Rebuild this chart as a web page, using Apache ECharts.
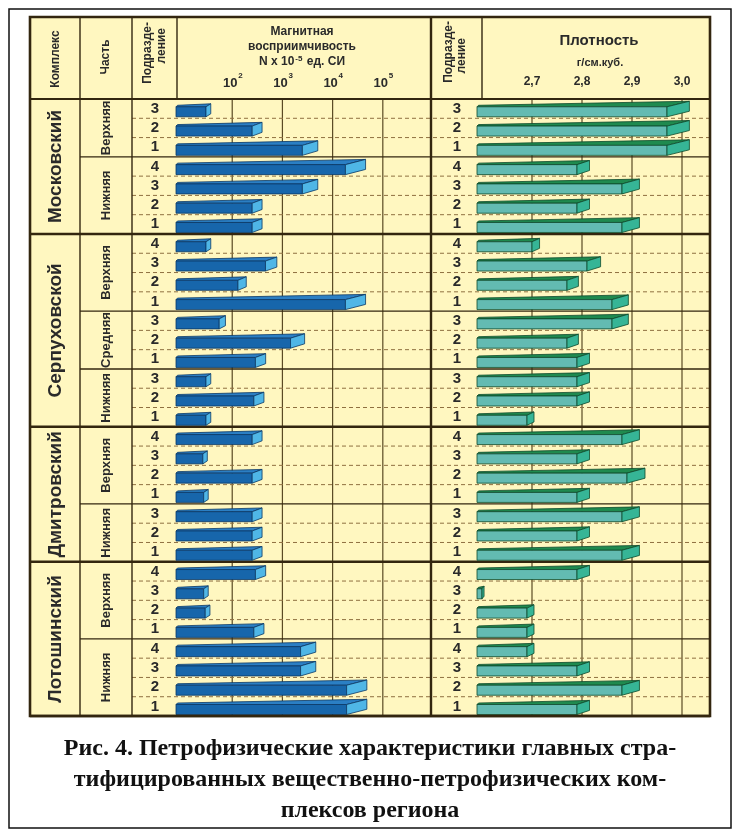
<!DOCTYPE html>
<html>
<head>
<meta charset="utf-8">
<script src="https://cdn.jsdelivr.net/npm/echarts@6/dist/echarts.min.js"></script>
<style>html,body{margin:0;padding:0;background:#fff}#main{width:740px;height:834px}</style>
</head>
<body>
<div id="main"></div>
<script>
// комплексы и части (сверху вниз)
var complexes = ['Московский', 'Серпуховской', 'Дмитровский', 'Лотошинский'];
var complexRows = [7, 10, 7, 8];
var parts = ['Верхняя', 'Нижняя', 'Верхняя', 'Средняя', 'Нижняя', 'Верхняя', 'Нижняя', 'Верхняя', 'Нижняя'];
var partRows = [3, 4, 4, 3, 3, 4, 3, 4, 4];
var subdivisions = ['3','2','1','4','3','2','1',
                    '4','3','2','1','3','2','1','3','2','1',
                    '4','3','2','1','3','2','1',
                    '4','3','2','1','4','3','2','1'];
// магнитная восприимчивость, N x 10^-5 ед. СИ
var magnetic = [30, 250, 2500, 18000, 2500, 250, 250,
                30, 460, 130, 18000, 55, 1450, 290, 30, 270, 30,
                250, 26, 250, 27, 250, 250, 250,
                290, 27, 29, 270, 2300, 2300, 19000, 19000];
// плотность, г/см.куб.
var density = [2.97, 2.97, 2.97, 2.79, 2.88, 2.79, 2.88,
               2.70, 2.81, 2.77, 2.86, 2.86, 2.77, 2.79, 2.79, 2.79, 2.69,
               2.88, 2.79, 2.89, 2.79, 2.88, 2.79, 2.88,
               2.79, 2.60, 2.69, 2.69, 2.69, 2.79, 2.88, 2.79];
var magTicks = [100, 1000, 10000, 100000];
var densityTicks = [2.7, 2.8, 2.9, 3.0];

// разметка, px
var P = {frameX: 9, frameY: 9, frameR: 731, frameB: 828,
         x: 30, y: 17, r: 710, b: 716, head: 99,
         partX: 80, subX: 132, magX: 176, sepX: 431, sub2X: 482, densX: 477};
var magMin = Math.pow(10, 0.88), magMax = Math.pow(10, 5.96);
var densMin = 2.59, densMax = 3.056;

var YELLOW = '#fff7c0', DARK = '#33260f', TXT = '#2a2a2a';
var FONT = '"Liberation Sans", Arial, sans-serif';
var SERIF = '"Liberation Serif", "Times New Roman", serif';
var blue = {front: '#1766ab', top: '#2b7fc4', side: '#4fb6e6', edge: '#0b3866'};
var green = {front: '#63bbb2', top: '#1f8a4f', side: '#36b596', edge: '#0e4a2c'};

var rowIds = subdivisions.map(function (s, i) { return 'r' + i; });

// тип нижней границы строки: 0 пунктир, 1 граница части, 2 граница комплекса
var rowKind = subdivisions.map(function () { return 0; });
var acc = 0;
partRows.forEach(function (n) { acc += n; rowKind[acc - 1] = 1; });
acc = 0;
complexRows.forEach(function (n) { acc += n; rowKind[acc - 1] = 2; });

var groups = [];
acc = 0;
complexRows.forEach(function (n, i) { groups.push([acc, n, 0, i]); acc += n; });
acc = 0;
partRows.forEach(function (n, i) { groups.push([acc, n, 1, i]); acc += n; });

function band(api) {
    return api.coord([densMin, 1])[1] - api.coord([densMin, 0])[1];
}

function bar3d(api, base, c) {
    var idx = api.value(0), val = api.value(1);
    var a = api.coord([base, idx]);
    var b = api.coord([val, idx]);
    var bh = api.coord([base, idx + 1])[1] - a[1];
    var yB = a[1] + bh / 2 - 1.5, yT = yB - 10;
    var x0 = a[0], x1 = b[0], len = x1 - x0;
    var dx = 1.5 + 0.11 * len, dy = 2.5 + 0.016 * len;
    var st = function (f) { return {fill: f, stroke: c.edge, lineWidth: 0.8}; };
    return {type: 'group', children: [
        {type: 'polygon', shape: {points: [[x0, yT], [x1, yT], [x1 + dx, yT - dy], [x0 + 1.5, yT - 1.5]]}, style: st(c.top)},
        {type: 'rect', shape: {x: x0, y: yT, width: len, height: yB - yT}, style: st(c.front)},
        {type: 'polygon', shape: {points: [[x1, yT], [x1 + dx, yT - dy], [x1 + dx, yB - dy], [x1, yB]]}, style: st(c.side)}
    ]};
}

function tickLines(api, params, label) {
    var cs = params.coordSys;
    var x = api.coord([api.value(0), 0])[0];
    return {type: 'group', children: [
        {type: 'line', shape: {x1: x, y1: cs.y, x2: x, y2: cs.y + cs.height}, style: {stroke: '#5a4a24', lineWidth: 1.2}}
    ].concat(label(x, api.value(0)))};
}

function line(x1, y1, x2, y2, w) {
    return {type: 'line', z: 20, shape: {x1: x1, y1: y1, x2: x2, y2: y2}, style: {stroke: DARK, lineWidth: w}};
}
function text(x, y, s, font, rot, align) {
    return {type: 'text', z: 20, x: x, y: y, rotation: rot || 0,
            style: {text: s, fill: TXT, font: font, align: align || 'center', verticalAlign: 'middle'}};
}

var myChart = echarts.init(document.getElementById('main'));

var R = Math.PI / 2;
var option = {
    animation: false,
    grid: [
        {left: P.magX, right: 740 - P.sepX, top: P.head, bottom: 834 - P.b},
        {left: P.densX, right: 740 - P.r, top: P.head, bottom: 834 - P.b}
    ],
    xAxis: [
        {gridIndex: 0, type: 'log', min: magMin, max: magMax, show: false},
        {gridIndex: 1, type: 'value', min: densMin, max: densMax, show: false}
    ],
    yAxis: [
        {gridIndex: 0, type: 'category', data: rowIds, inverse: true, z: 10,
         axisLine: {show: false}, axisTick: {show: false}, splitLine: {show: false},
         axisLabel: {margin: 21, align: 'center', padding: [6, 0, 0, 0], interval: 0,
                     color: TXT, fontFamily: FONT, fontWeight: 'bold', fontSize: 15,
                     formatter: function (v, i) { return subdivisions[i]; }}},
        {gridIndex: 1, type: 'category', data: rowIds, inverse: true, z: 10,
         axisLine: {show: false}, axisTick: {show: false}, splitLine: {show: false},
         axisLabel: {margin: 20, align: 'center', padding: [6, 0, 0, 0], interval: 0,
                     color: TXT, fontFamily: FONT, fontWeight: 'bold', fontSize: 15,
                     formatter: function (v, i) { return subdivisions[i]; }}}
    ],
    graphic: [
        {type: 'rect', z: 0, shape: {x: P.frameX, y: P.frameY, width: P.frameR - P.frameX, height: P.frameB - P.frameY},
         style: {fill: '#fff', stroke: '#111', lineWidth: 1.5}},
        {type: 'rect', z: 1, shape: {x: P.x, y: P.y, width: P.r - P.x, height: P.b - P.y},
         style: {fill: YELLOW, stroke: null}},
        line(P.x, P.head, P.r, P.head, 2.2),
        line(P.partX, P.y, P.partX, P.b, 1.4),
        line(P.subX, P.y, P.subX, P.b, 1.4),
        line(P.magX + 1, P.y, P.magX + 1, P.head, 1.4),
        line(P.sepX, P.y, P.sepX, P.b, 2.4),
        line(P.sub2X, P.y, P.sub2X, P.head, 1.4),
        {type: 'rect', z: 21, shape: {x: P.x, y: P.y, width: P.r - P.x, height: P.b - P.y},
         style: {fill: null, stroke: DARK, lineWidth: 2.6}},
        text(56, 59, 'Комплекс', 'bold 12px ' + FONT, R),
        text(106, 57, 'Часть', 'bold 12px ' + FONT, R),
        text(148, 22, 'Подразде-', 'bold 12px ' + FONT, R, 'right'),
        text(162, 28, 'ление', 'bold 12px ' + FONT, R, 'right'),
        text(449, 21, 'Подразде-', 'bold 12px ' + FONT, R, 'right'),
        text(462, 38, 'ление', 'bold 12px ' + FONT, R, 'right'),
        text(302, 32, 'Магнитная', 'bold 12px ' + FONT),
        text(302, 47, 'восприимчивость', 'bold 12px ' + FONT),
        {type: 'text', z: 20, x: 302, y: 62,
         style: {text: '{a|N x 10}{s|-5}{a| ед. СИ}', align: 'center', verticalAlign: 'middle',
                 rich: {a: {fill: TXT, font: 'bold 12px ' + FONT},
                        s: {fill: TXT, font: 'bold 8px ' + FONT, verticalAlign: 'top', padding: [0, 1, 6, 1]}}}},
        text(599, 41, 'Плотность', 'bold 15px ' + FONT),
        text(600, 63, 'г/см.куб.', 'bold 11px ' + FONT),
        {type: 'text', z: 20, x: 370, y: 749,
         style: {text: 'Рис. 4. Петрофизические характеристики главных стра-', fill: '#111',
                 font: 'bold 24px ' + SERIF, align: 'center', verticalAlign: 'middle'}},
        {type: 'text', z: 20, x: 370, y: 780,
         style: {text: 'тифицированных вещественно-петрофизических ком-', fill: '#111',
                 font: 'bold 24px ' + SERIF, align: 'center', verticalAlign: 'middle'}},
        {type: 'text', z: 20, x: 370, y: 811,
         style: {text: 'плексов региона', fill: '#111',
                 font: 'bold 24px ' + SERIF, align: 'center', verticalAlign: 'middle'}}
    ],
    series: [
        {   // вертикальные линии сетки и подписи шкалы магнитной восприимчивости
            type: 'custom', xAxisIndex: 0, yAxisIndex: 0, z: 2, silent: true,
            data: magTicks.map(function (v) { return [v, 0]; }),
            encode: {x: 0, y: 1},
            renderItem: function (params, api) {
                return tickLines(api, params, function (x, v) {
                    return [
                        {type: 'text', x: x - 2, y: 83, style: {text: '10', fill: TXT, font: 'bold 13px ' + FONT, align: 'center', verticalAlign: 'middle'}},
                        {type: 'text', x: x + 6, y: 76, style: {text: String(Math.round(Math.log10(v))), fill: TXT, font: 'bold 8px ' + FONT, align: 'left', verticalAlign: 'middle'}}
                    ];
                });
            }
        },
        {   // шкала плотности
            type: 'custom', xAxisIndex: 1, yAxisIndex: 1, z: 2, silent: true,
            data: densityTicks.map(function (v) { return [v, 0]; }),
            encode: {x: 0, y: 1},
            renderItem: function (params, api) {
                return tickLines(api, params, function (x, v) {
                    return [{type: 'text', x: x, y: 82, style: {text: v.toFixed(1).replace('.', ','), fill: TXT, font: 'bold 12px ' + FONT, align: 'center', verticalAlign: 'middle'}}];
                });
            }
        },
        {   // границы строк
            type: 'custom', xAxisIndex: 1, yAxisIndex: 1, z: 3, silent: true,
            data: rowKind.map(function (k, i) { return [i, k]; }),
            encode: {x: 1, y: 0},
            renderItem: function (params, api) {
                var i = api.value(0), k = api.value(1);
                var y = api.coord([densMin, i])[1] + band(api) / 2;
                var x0 = k === 2 ? P.x : (k === 1 ? P.partX : P.subX);
                var style = k === 0 ? {stroke: '#8f7040', lineWidth: 1, lineDash: [4, 3]}
                                    : {stroke: DARK, lineWidth: k === 2 ? 2.4 : 1.4};
                return {type: 'line', shape: {x1: x0, y1: y, x2: P.r, y2: y}, style: style};
            }
        },
        {   // названия комплексов и частей
            type: 'custom', xAxisIndex: 1, yAxisIndex: 1, z: 4, silent: true,
            data: groups,
            encode: {x: 1, y: 0},
            renderItem: function (params, api) {
                var s = api.value(0), n = api.value(1), lvl = api.value(2), ni = api.value(3);
                var b = band(api);
                var top = api.coord([densMin, s])[1] - b / 2;
                var cy = top + n * b / 2;
                return {type: 'text', x: lvl === 0 ? 56 : 106, y: cy, rotation: Math.PI / 2,
                        style: {text: lvl === 0 ? complexes[ni] : parts[ni], fill: TXT,
                                font: (lvl === 0 ? 'bold 19px ' : 'bold 13px ') + FONT,
                                align: 'center', verticalAlign: 'middle'}};
            }
        },
        {
            name: 'Магнитная восприимчивость', type: 'custom', xAxisIndex: 0, yAxisIndex: 0, z: 5,
            data: magnetic.map(function (v, i) { return [i, v]; }),
            encode: {x: 1, y: 0},
            renderItem: function (params, api) { return bar3d(api, magMin, blue); }
        },
        {
            name: 'Плотность', type: 'custom', xAxisIndex: 1, yAxisIndex: 1, z: 5,
            data: density.map(function (v, i) { return [i, v]; }),
            encode: {x: 1, y: 0},
            renderItem: function (params, api) { return bar3d(api, densMin, green); }
        }
    ]
};
myChart.setOption(option);
</script>
</body>
</html>
